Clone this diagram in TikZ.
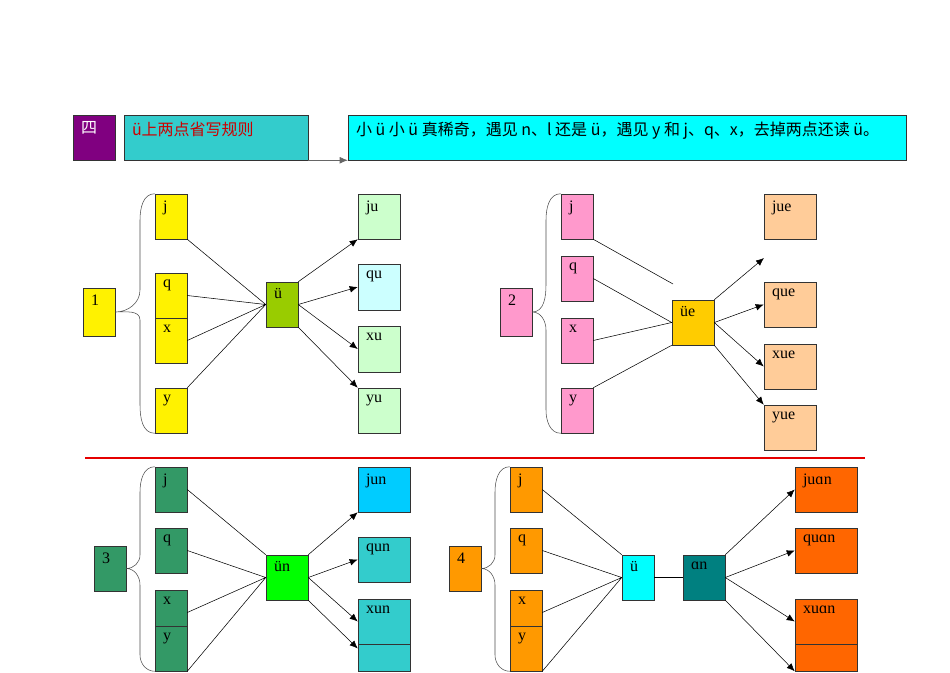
\documentclass[tikz,border=0pt]{standalone}
\usepackage{fontspec}
\setmainfont{Liberation Serif}
\newfontfamily\cjk{Noto Sans CJK SC}
\usetikzlibrary{arrows.meta}
\definecolor{plum}{HTML}{800080}
\definecolor{tealbox}{HTML}{33CCCC}
\definecolor{aqua}{HTML}{00FFFF}
\definecolor{pea}{HTML}{99CC00}
\definecolor{mint}{HTML}{CCFFCC}
\definecolor{ice}{HTML}{CCFFFF}
\definecolor{rose}{HTML}{FF99CC}
\definecolor{gold}{HTML}{FFCC00}
\definecolor{peach}{HTML}{FFCC99}
\definecolor{sea}{HTML}{339966}
\definecolor{sky}{HTML}{00CCFF}
\definecolor{amber}{HTML}{FF9900}
\definecolor{rust}{HTML}{FF6600}
\definecolor{deepteal}{HTML}{008080}
\definecolor{lime}{HTML}{00FF00}
\tikzset{
  cell/.style={draw=black!80,inner sep=0pt},
  arr/.style={-{Latex[length=6pt,width=5pt]}},
}
% box given by its corners in pixels, text at the top left
\newcommand\cell[7]{\node[cell,fill=#6,minimum width={(#4-#2)*0.75pt},minimum height={(#5-#3)*0.75pt},
  label={[anchor=north west,inner sep=0pt,xshift=6pt,yshift=-5pt,font=\fontsize{12}{14}\selectfont]north west:#7}]
  (#1) at ({(#2+#4)/2},{(#3+#5)/2}) {};}
\begin{document}
\begin{tikzpicture}[x=0.75pt,y=-0.75pt]
\useasboundingbox (0,0) rectangle (950,672);
% title
\cell{four}{73}{115}{115}{160}{plum}{\cjk\color{white}四}
\cell{rule}{124}{115}{308}{160}{tealbox}{\cjk\color{red!80!black}ü上两点省写规则}
\cell{poem}{348}{115}{906}{160}{aqua}{\cjk 小 ü 小 ü 真稀奇，遇见 n、l 还是 ü，遇见 y 和 j、q、x，去掉两点还读 ü。}
\draw[arr,black!60] (rule.south east) -- (poem.south west);
% panel 1
\cell{n1}{83}{288}{115}{336}{yellow}{1}
\cell{j1}{155}{194}{187}{239}{yellow}{j}
\cell{q1}{155}{273}{187}{318}{yellow}{q}
\cell{x1}{155}{318}{187}{363}{yellow}{x}
\cell{y1}{155}{388}{187}{433}{yellow}{y}
\cell{u1}{266}{282}{298}{327}{pea}{ü}
\cell{ju1}{358}{194}{400}{239}{mint}{ju}
\cell{qu1}{358}{264}{400}{310}{ice}{qu}
\cell{xu1}{358}{326}{400}{372}{mint}{xu}
\cell{yu1}{358}{388}{400}{433}{mint}{yu}
\draw[black!70] (n1.east) to[out=0,in=-90] (140,290) -- (140,220) to[out=90,in=180] (j1.north west)
  (n1.east) to[out=0,in=90] (140,320) -- (140,405) to[out=-90,in=180] (y1.south west);
\draw (j1.south east) -- (u1.west) (q1.east) -- (u1.west) (x1.east) -- (u1.west) (y1.north east) -- (u1.west);
\draw[arr] (u1.north east) -- (ju1.south west);
\draw[arr] (u1.east) -- (qu1.west);
\draw[arr] (u1.east) -- (xu1.west);
\draw[arr] (u1.south east) -- (yu1.north west);
% panel 2
\cell{n2}{500}{288}{532}{336}{rose}{2}
\cell{j2}{561}{194}{593}{239}{rose}{j}
\cell{q2}{561}{256}{593}{301}{rose}{q}
\cell{x2}{561}{318}{593}{363}{rose}{x}
\cell{y2}{561}{388}{593}{433}{rose}{y}
\cell{u2}{672}{300}{714}{345}{gold}{üe}
\cell{ju2}{764}{194}{816}{239}{peach}{jue}
\cell{qu2}{764}{282}{816}{327}{peach}{que}
\cell{xu2}{764}{344}{816}{389}{peach}{xue}
\cell{yu2}{764}{405}{816}{450}{peach}{yue}
\coordinate (stop2) at (673,284);
\coordinate (tip2) at (764,258);
\draw[black!70] (n2.east) to[out=0,in=-90] (546,285) -- (546,220) to[out=90,in=180] (j2.north west)
  (n2.east) to[out=0,in=90] (546,330) -- (546,410) to[out=-90,in=180] (y2.south west);
\draw (j2.south east) -- (stop2) (q2.east) -- (u2.west) (x2.east) -- (u2.west) (y2.north east) -- (u2.south west);
\draw[arr] (u2.north east) -- (tip2);
\draw[arr] (u2.east) -- (qu2.west);
\draw[arr] (u2.east) -- (xu2.west);
\draw[arr] (u2.south east) -- (yu2.north west);
% separator
\draw[red!90!black,line width=2pt] (85,458) -- (865,458);
% panel 3
\cell{n3}{94}{546}{126}{591}{sea}{3}
\cell{j3}{155}{467}{187}{512}{sea}{j}
\cell{q3}{155}{528}{187}{573}{sea}{q}
\cell{x3}{155}{590}{187}{635}{sea}{x}
\cell{y3}{155}{626}{187}{671}{sea}{y}
\cell{u3}{266}{555}{308}{600}{lime}{ün}
\cell{ju3}{358}{467}{410}{512}{sky}{jun}
\cell{qu3}{358}{537}{410}{582}{tealbox}{qun}
\cell{yu3}{358}{626}{410}{671}{tealbox}{yun}
\cell{xu3}{358}{599}{410}{644}{tealbox}{xun}
\draw[black!70] (n3.east) to[out=0,in=-90] (140,555) -- (140,492) to[out=90,in=180] (j3.north west)
  (n3.east) to[out=0,in=90] (140,585) -- (140,655) to[out=-90,in=180] (y3.south west);
\draw (j3.east) -- (u3.north west) (q3.east) -- (u3.west) (x3.east) -- (u3.west) (y3.south east) -- (u3.west);
\draw[arr] (u3.north east) -- (ju3.south west);
\draw[arr] (u3.east) -- (qu3.west);
\draw[arr] (u3.east) -- (xu3.west);
\draw[arr] (u3.south east) -- (yu3.west);
% panel 4
\cell{n4}{449}{546}{481}{591}{amber}{4}
\cell{j4}{510}{467}{542}{512}{amber}{j}
\cell{q4}{510}{528}{542}{573}{amber}{q}
\cell{x4}{510}{590}{542}{635}{amber}{x}
\cell{y4}{510}{626}{542}{671}{amber}{y}
\cell{u4}{622}{555}{654}{600}{aqua}{ü}
\cell{an4}{683}{555}{725}{600}{deepteal}{ɑn}
\cell{ju4}{795}{467}{857}{512}{rust}{juɑn}
\cell{qu4}{795}{528}{857}{573}{rust}{quɑn}
\cell{yu4}{795}{626}{857}{671}{rust}{yuɑn}
\cell{xu4}{795}{599}{857}{644}{rust}{xuɑn}
\draw[black!70] (n4.east) to[out=0,in=-90] (495,555) -- (495,492) to[out=90,in=180] (j4.north west)
  (n4.east) to[out=0,in=90] (495,585) -- (495,655) to[out=-90,in=180] (y4.south west);
\draw (j4.east) -- (u4.north west) (q4.east) -- (u4.west) (x4.east) -- (u4.west) (y4.south east) -- (u4.west);
\draw (u4.east) -- (an4.west);
\draw[arr] (an4.north east) -- (ju4.west);
\draw[arr] (an4.east) -- (qu4.west);
\draw[arr] (an4.east) -- (xu4.west);
\draw[arr] (an4.south east) -- (yu4.south west);
\end{tikzpicture}
\end{document}
